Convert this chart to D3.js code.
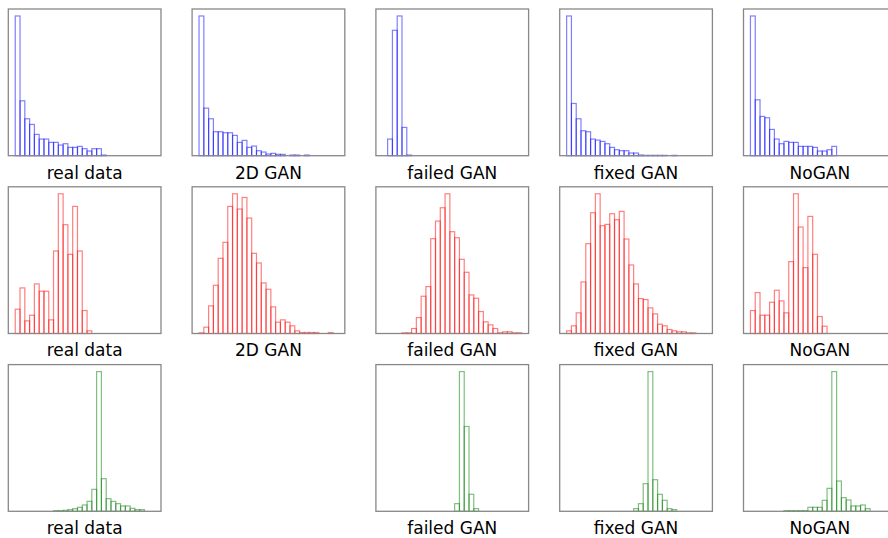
<!DOCTYPE html>
<html>
<head>
<meta charset="utf-8">
<script src="https://cdn.jsdelivr.net/npm/d3@7"></script>
<style>
  body { margin: 0; background: #fff; }
  svg { display: block; }
</style>
</head>
<body>
<script>
// column labels under each panel
var labels = ["real data", "2D GAN", "failed GAN", "fixed GAN", "NoGAN"];

// histogram counts per bin (bin 0 is the first bin of the shared 29-bin range)
var blueReal   = [420,165,111,94,64,50,50,40,40,32,36,25,25,28,21,14,21,21,2];
var blue2D     = [420,143,111,72,72,69,69,61,40,46,25,29,15,11,5,7,4,4,0,2,2,0,2];
var blueFailed = [0,50,377,420,85,2];
var blueFixed  = [420,157,111,75,72,50,47,43,36,25,18,15,15,8,8,2,1,1,1,1,1,0,1];
var blueNoGAN  = [420,168,118,114,79,50,36,43,40,40,28,28,28,25,14,14,18,28];

var redReal   = [73,137,38,55,149,127,127,41,248,420,327,238,382,248,69,8];
var red2D     = [2,19,83,145,226,274,382,420,374,409,347,241,212,152,133,80,34,41,34,23,8,3,3,3,3,0,0,3];
var redFailed = [0,0,0,0,2,2,15,48,112,141,285,338,378,420,306,288,223,184,116,106,66,35,26,15,2,5,5,2,2];
var redFixed  = [8,23,62,155,270,363,420,324,328,360,342,367,284,206,149,105,102,77,59,28,23,12,8,5,5,2,2];
var redNoGAN  = [69,123,55,55,94,130,98,62,216,420,320,198,352,238,51,22];

var greenReal   = [0,0,0,0,0,0,0,0,2,2,3,5,8,12,19,30,66,420,98,38,30,23,16,16,9,5,5];
var greenFailed = [0,0,0,0,0,0,0,0,0,0,0,0,0,0,0,23,420,255,51,8];
var greenFixed  = [0,0,0,0,0,0,0,0,0,0,0,0,0,0,8,23,83,420,95,51,33,8,5];
var greenNoGAN  = [0,0,0,0,0,0,0,2,2,2,2,2,12,12,12,33,69,420,91,41,34,16,16,19,8];

var nBins = 29;

var grid = [
  [blueReal, blue2D, blueFailed, blueFixed, blueNoGAN],
  [redReal, red2D, redFailed, redFixed, redNoGAN],
  [greenReal, null, greenFailed, greenFixed, greenNoGAN]
];
var colors = ["#0000ff", "#ff0000", "#008000"];

var width = 888, height = 538;
var pw = 152.7, ph = 146.7;   // panel size
var left0 = 8.3, top0 = 9, dx = 183.8, dy = 177.8;

var svg = d3.select("body").append("svg")
    .attr("width", width)
    .attr("height", height);

// x in bin units with matplotlib-like 5% margins
var margin = nBins * 0.05;
var x = d3.scaleLinear()
    .domain([-margin, nBins + margin])
    .range([0, pw]);

grid.forEach(function(row, r) {
  row.forEach(function(counts, c) {
    if (!counts) return;
    var g = svg.append("g")
        .attr("transform", "translate(" + (left0 + c * dx) + "," + (top0 + r * dy) + ")");

    var y = d3.scaleLinear()
        .domain([0, d3.max(counts) * 1.05])
        .range([ph, 0]);

    var bins = counts.map(function(v, i) { return {i: i, v: v}; })
        .filter(function(d) { return d.v > 0; });

    g.selectAll("rect.bar")
      .data(bins)
      .enter()
      .append("rect")
      .attr("class", "bar")
      .attr("x", function(d) { return x(d.i); })
      .attr("width", function(d) { return x(d.i + 1) - x(d.i); })
      .attr("y", function(d) { return y(d.v); })
      .attr("height", function(d) { return y(0) - y(d.v); })
      .attr("fill", "none")
      .attr("stroke", colors[r])
      .attr("stroke-opacity", 0.5)
      .attr("stroke-width", 1.2);

    // frame
    g.append("rect")
      .attr("width", pw)
      .attr("height", ph)
      .attr("fill", "none")
      .attr("stroke", "#888")
      .attr("stroke-width", 1.3);

    g.append("text")
      .attr("x", pw / 2)
      .attr("y", ph + 23)
      .attr("text-anchor", "middle")
      .style("font-family", "DejaVu Sans, sans-serif")
      .style("font-size", "17px")
      .attr("fill", "#000")
      .text(labels[c]);
  });
});
</script>
</body>
</html>
